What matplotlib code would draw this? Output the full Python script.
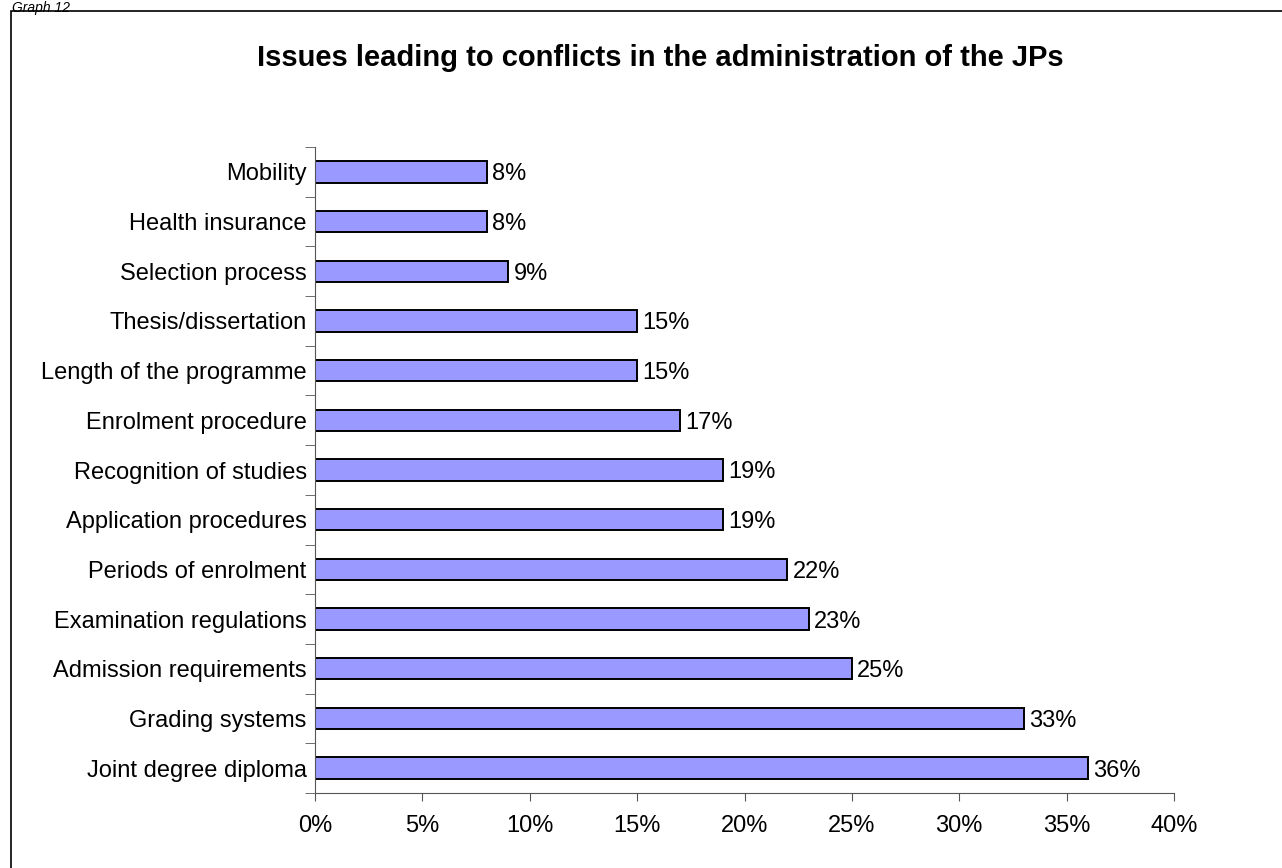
import matplotlib.pyplot as plt
from matplotlib.patches import Rectangle

plt.rcParams['font.family'] = ['Liberation Sans', 'DejaVu Sans']

# data (top to bottom in the picture)
categories = ["Mobility", "Health insurance", "Selection process",
              "Thesis/dissertation", "Length of the programme",
              "Enrolment procedure", "Recognition of studies",
              "Application procedures", "Periods of enrolment",
              "Examination regulations", "Admission requirements",
              "Grading systems", "Joint degree diploma"]
values = [8, 8, 9, 15, 15, 17, 19, 19, 22, 23, 25, 33, 36]
xticks = [0, 5, 10, 15, 20, 25, 30, 35, 40]

fig = plt.figure(figsize=(12.82, 8.68), dpi=100)

# outer frame like the source document
fig.patches.append(Rectangle((11 / 1282, -0.01), 1.02, 1 - 11 / 868 + 0.01,
                             transform=fig.transFigure, fill=False,
                             edgecolor='black', linewidth=1.2))
fig.text(12 / 1282, 0.999, "Graph 12", ha='left', va='top',
         fontsize=10, style='italic')

ax = fig.add_axes([315 / 1282, 1 - 793 / 868, (1174 - 315) / 1282, (793 - 147) / 868])

# reverse so the first category sits on top
ypos = list(range(len(categories)))[::-1]
ax.barh(ypos, values, height=0.43, color='#9999FF', edgecolor='black', linewidth=1.4)

for y, v in zip(ypos, values):
    ax.text(v + 0.25, y, f"{v}%", va='center_baseline', ha='left', fontsize=17)

ax.set_xlim(0, 40)
ax.set_ylim(-0.5, len(categories) - 0.5)
ax.set_xticks(xticks)
ax.set_xticklabels([f"{t}%" for t in xticks], fontsize=17)

# category labels between boundary ticks
ax.set_yticks(ypos)
ax.set_yticklabels(categories, fontsize=17)
ax.tick_params(axis='y', length=0, pad=6)
ax.set_yticks([i - 0.5 for i in range(len(categories) + 1)], minor=True)
ax.tick_params(axis='y', which='minor', length=7, color='#555555', direction='out')
ax.tick_params(axis='x', length=6, color='#555555', pad=10)

for s in ['top', 'right']:
    ax.spines[s].set_visible(False)
ax.spines['left'].set_color('#555555')
ax.spines['bottom'].set_color('#555555')

fig.text(660 / 1282, 1 - 58 / 868, "Issues leading to conflicts in the administration of the JPs",
         ha='center', va='center', fontsize=21, fontweight='bold')

plt.savefig('out.png', dpi=100)
